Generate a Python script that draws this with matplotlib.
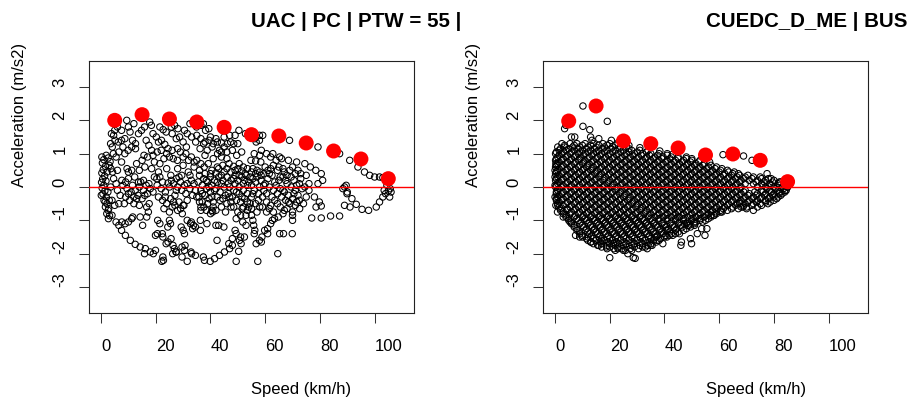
import numpy as np
import matplotlib
matplotlib.use("Agg")
from matplotlib import pyplot as plt

plt.rcParams['font.family'] = ['Liberation Sans', 'DejaVu Sans']

# ---- panel 1: UAC | PC | PTW = 55 ----
uac_title = "UAC | PC | PTW = 55 |"
uac_points = [
    # standstill column
    (0.3,0.9),(1.0,0.82),(0.5,0.72),(1.6,0.62),(0.8,0.52),(0.3,0.42),(1.3,0.33),(0.6,0.24),
    (0.2,0.14),(1.0,0.05),(0.4,-0.03),(1.4,-0.12),(0.7,-0.21),(1.9,-0.3),(1.1,-0.4),(2.2,-0.5),
    (1.6,-0.6),(2.6,-0.7),(2.1,-0.8),(3.1,-0.86),(2.7,-0.95),(1.9,0.95),(2.6,0.87),(3.3,0.76),
    (2.2,0.45),(1.8,0.18),(2.5,-0.15),(3.0,-0.4),
    # upper arcs
    (3.5,1.3),(4.1,1.2),(3.8,1.6),(4.6,1.55),(5.1,1.4),(6.3,1.35),(7.5,1.4),(8.7,1.45),(9.4,2.0),
    (10.0,1.8),(10.6,1.65),(8.7,1.0),(9.9,1.1),(11.2,1.2),(12.6,1.3),(12.6,1.15),(13.7,1.6),
    (14.8,1.7),(15.9,1.8),(17.8,1.95),(18.4,1.85),(15.7,0.95),(21.5,1.8),(22.7,1.72),(23.8,1.65),
    (22.1,1.4),(23.3,1.28),(24.5,1.15),(25.7,1.8),(26.9,1.85),(28.1,1.75),(28.7,1.5),(30.0,1.35),
    (31.2,1.2),(32.5,1.9),(33.7,1.95),(34.9,1.8),(33.1,1.5),(34.6,1.35),(36.2,1.15),(38.2,1.7),
    (39.4,1.75),(36.5,1.85),(37.4,1.9),(40.0,1.5),(42.0,1.45),(38.8,1.1),(40.6,1.2),(43.3,1.1),
    (45.0,1.2),(46.2,1.3),(47.4,1.35),(48.5,1.3),(50.0,1.3),(50.4,1.7),(52.8,1.6),(54.6,1.55),
    (56.2,1.45),(57.9,1.55),(59.1,1.55),(56.7,1.35),(57.9,1.4),(68.9,1.4),(79.3,1.2),(87.2,1.0),
    (90.9,0.8),(93.9,0.6),(96.3,0.45),(98.2,0.35),(100.0,0.3),(101.8,0.3),(103.0,0.28),(42.5,1.35),
    (44.0,1.32),(26.0,1.6),(27.5,1.45),(19.0,1.6),(20.2,1.5),(21.0,1.35),(16.5,1.4),(17.5,1.25),
    (18.5,1.1),(11.5,1.4),(6.0,1.8),(7.5,1.7),(5.0,1.7),(12.0,1.9),(30.5,1.7),(31.5,1.6),
    (15.0,0.8),(17.0,0.9),(19.0,0.95),(20.5,1.05),(22.0,1.1),(24.0,1.0),(26.0,1.1),(28.0,1.15),
    (30.0,0.9),(32.0,0.8),(34.0,0.75),(36.5,0.7),(13.0,0.7),(14.0,0.5),(19.5,0.75),(23.0,0.85),
    (6.0,0.5),(5.5,0.9),(6.5,1.05),(8.0,1.2),(4.5,1.0),(38.0,1.35),(39.5,1.4),(41.0,1.3),
    (44.0,1.05),(46.0,1.05),(48.0,1.1),(35.0,1.55),(36.5,1.45),(37.5,1.3),(45.0,1.5),(47.0,1.55),
    (49.0,1.55),
    # middle band 0.2 .. 1.0
    (25.0,0.9),(26.4,0.85),(27.9,0.8),(21.5,0.7),(24.0,0.55),(7.5,0.75),(9.5,0.55),(10.0,0.45),
    (11.2,0.5),(16.0,0.6),(18.5,0.55),(21.0,0.45),(3.0,0.65),(3.6,0.55),(4.2,0.45),(4.6,0.25),
    (7.6,0.2),(10.0,0.25),(12.3,0.3),(13.7,0.15),(15.5,0.2),(20.4,0.25),(21.5,0.3),(25.7,0.2),
    (27.5,0.25),(29.5,0.35),(31.9,0.45),(36.0,0.5),(37.7,0.6),(39.2,0.7),(41.0,0.85),(42.6,1.0),
    (46.8,0.7),(48.5,0.62),(50.0,0.55),(51.4,0.48),(52.7,0.4),(49.6,0.95),(51.4,1.05),(54.8,0.8),
    (56.5,0.78),(58.4,0.75),(58.6,1.1),(60.5,1.0),(62.8,1.0),(65.3,0.9),(66.0,0.85),(68.5,0.8),
    (71.5,0.75),(74.5,0.7),(76.5,0.6),(78.5,0.5),(80.5,0.4),(81.0,0.2),(79.3,0.1),(73.0,0.4),
    (75.0,0.35),(76.0,0.1),(56.0,1.0),(58.0,0.95),(62.0,0.9),(64.0,0.8),(33.0,0.9),(35.0,0.8),
    (31.0,1.0),(29.0,1.05),(44.0,0.9),(46.0,0.85),(38.0,0.95),(40.0,0.4),(43.0,0.55),(45.0,0.45),
    (30.0,0.65),(28.0,0.55),(34.0,0.6),(55.5,0.55),(57.0,0.5),(60.0,0.6),(62.0,0.55),(64.5,0.5),
    (67.0,0.45),(69.0,0.5),(71.0,0.4),
    (40.5,0.5),(42.5,0.6),(44.5,0.65),(46.0,0.55),(47.5,0.45),(49.0,0.5),(50.5,0.7),(52.0,0.6),
    (53.5,0.55),(55.0,0.45),(56.5,0.4),(58.0,0.45),(59.5,0.4),(61.0,0.5),(63.0,0.65),(65.0,0.6),
    (66.5,0.55),(68.0,0.35),(70.0,0.6),(72.0,0.5),
    # dense band around zero
    (36.0,0.35),(37.5,0.25),(39.0,0.15),(40.5,0.05),(42.0,-0.05),(43.5,-0.15),(36.5,-0.1),
    (38.0,-0.25),(39.5,-0.35),(41.0,-0.45),(42.5,-0.3),(44.0,0.1),(37.0,0.05),(38.5,-0.05),
    (40.0,-0.15),(41.5,0.2),(43.0,0.3),(44.5,-0.35),(35.0,-0.3),(36.0,-0.45),(38.0,0.4),
    (40.0,0.3),(42.0,0.42),(44.0,0.35),(45.0,0.0),(39.0,-0.5),(41.0,-0.6),
    (46.0,0.3),(47.5,0.2),(49.0,0.1),(50.5,0.0),(52.0,-0.1),(53.5,-0.2),(55.0,-0.3),(46.5,-0.2),
    (48.0,-0.3),(49.5,-0.4),(51.0,-0.45),(52.5,-0.35),(54.0,0.15),(55.5,0.25),(47.0,0.0),
    (48.5,-0.1),(50.0,0.2),(51.5,0.3),(53.0,0.35),(54.5,-0.5),(56.0,-0.1),(46.0,-0.5),(47.5,-0.6),
    (49.0,0.35),(50.5,-0.2),(52.0,0.1),(53.5,0.05),(55.0,0.05),
    (57.0,0.3),(58.5,0.2),(60.0,0.1),(61.5,0.0),(63.0,-0.1),(64.5,-0.2),(66.0,-0.3),(67.5,-0.4),
    (69.0,-0.5),(57.5,-0.2),(59.0,-0.3),(60.5,-0.45),(62.0,-0.55),(63.5,-0.4),(65.0,0.2),
    (66.5,0.3),(68.0,0.1),(69.5,0.0),(71.0,-0.1),(72.0,-0.25),(70.5,0.2),(58.0,0.0),(59.5,-0.1),
    (61.0,0.25),(62.5,0.35),(64.0,0.05),(65.5,-0.05),(67.0,-0.15),(68.5,-0.25),(70.0,-0.35),
    (71.5,-0.45),(72.5,0.1),(73.5,-0.05),(56.5,-0.5),(58.0,-0.6),
    (35.5,0.15),(37.0,-0.2),(38.5,0.2),(39.5,0.0),(40.5,-0.3),(41.5,-0.1),(42.5,0.15),(43.5,-0.4),
    (44.5,0.2),(45.5,-0.25),(46.5,0.1),(47.5,-0.45),(48.5,0.25),(49.5,-0.15),(50.5,0.35),
    (51.5,-0.3),(52.5,0.2),(53.5,-0.45),(54.5,0.3),(55.5,-0.2),(56.5,0.15),(57.5,-0.4),(58.5,0.35),
    (59.5,0.05),(60.5,-0.2),(61.5,0.4),(62.5,-0.3),(63.5,0.15),(64.5,-0.5),(65.5,0.3),(66.5,-0.1),
    (67.5,0.2),(68.5,-0.45),(69.5,0.3),(70.5,-0.2),(71.5,0.05),(72.5,-0.4),(73.0,0.25),(74.5,0.0),
    (75.0,-0.3),
    (36.5,-0.6),(38.5,-0.7),(40.0,-0.8),(42.0,-0.7),(44.0,-0.6),(45.5,-0.75),(47.0,-0.3),
    (48.5,-0.6),(50.0,-0.75),(52.0,-0.6),(53.0,-0.85),(55.0,-0.65),(57.0,-0.75),(59.0,-0.6),
    (60.5,-0.75),(61.5,-0.65),(63.0,-0.75),(65.5,-0.6),(66.5,-0.8),(68.0,-0.65),(70.0,-0.75),
    (20.5,0.05),(22.0,-0.05),(23.5,-0.15),(25.0,0.0),(26.5,0.1),(28.0,0.0),(29.5,-0.1),
    (31.0,-0.2),(32.5,-0.05),(34.0,0.1),(21.0,-0.3),(22.5,-0.4),(24.0,-0.5),(25.5,-0.35),
    (27.0,-0.25),(28.5,-0.45),(30.0,-0.55),(31.5,0.1),(33.0,0.2),(26.0,-0.6),(29.0,0.15),(24.5,0.12),
    (22.5,0.15),(23.5,-0.3),(25.5,0.35),(26.5,-0.45),(27.5,-0.1),(28.5,0.3),(30.5,0.05),
    (31.5,-0.4),(32.5,0.35),(33.5,-0.25),(34.5,-0.1),(27.0,-0.55),(28.0,-0.7),(25.0,-0.75),
    (23.0,-0.65),
    (8.0,0.05),(9.5,-0.05),(11.0,-0.15),(12.5,-0.1),(14.0,0.0),(15.5,-0.1),(17.0,-0.2),(9.0,-0.3),
    (10.5,-0.4),(12.0,-0.3),(13.5,-0.25),(15.0,-0.35),(16.5,0.05),(18.0,-0.05),(6.0,-0.1),
    (7.0,-0.25),(5.5,0.1),(4.0,-0.4),(5.0,-0.55),(6.5,-0.5),(3.5,0.0),
    (9.0,0.15),(10.0,-0.2),(11.5,0.05),(13.0,-0.35),(14.5,0.15),(16.0,-0.25),(17.5,0.1),
    (19.0,-0.15),(19.5,0.3),(12.0,-0.5),(14.0,-0.55),(8.5,-0.5),
    (88.4,-0.05),(89.6,0.05),(90.0,-0.15),(89.0,0.0),(104.5,0.05),(105.7,-0.05),(104.9,0.2),
    (106.0,-0.15),(105.5,-0.3),(103.5,-0.1),(89.9,-0.2),(91.7,-0.35),(76.0,-0.1),(78.0,-0.3),
    (74.0,-0.5),
    # lower arcs
    (0.1,-0.25),(1.5,-0.45),(2.8,-0.65),(4.0,-0.85),(5.5,-1.05),(6.5,-1.15),(7.5,-1.3),(8.9,-1.45),
    (10.7,-1.6),(12.5,-1.72),(14.3,-1.8),(16.2,-1.85),(18.0,-1.95),(19.1,-2.0),(15.9,-2.0),
    (7.6,-1.05),(8.8,-1.1),(10.0,-1.05),(11.2,-0.95),(14.3,-0.9),(16.7,-0.6),(17.3,-0.75),
    (16.7,-0.9),(15.2,-1.15),(17.6,-0.5),(11.6,-0.9),(21.5,-1.1),(25.0,-1.0),(25.4,-1.1),
    (19.9,-1.45),(22.6,-1.5),(24.5,-1.65),(26.3,-1.75),(26.8,-1.85),(27.4,-1.95),(22.6,-2.1),
    (22.2,-2.23),(22.8,-2.2),(19.9,-1.9),(20.6,-1.4),(22.4,-1.4),(23.8,-1.7),(24.4,-1.2),
    (25.6,-1.55),(20.7,-1.0),(26.2,-2.0),(29.1,-0.65),(29.7,-0.8),(31.5,-1.0),(32.7,-1.1),
    (33.5,-1.25),(27.5,-1.95),(30.5,-1.9),(32.9,-1.95),(34.5,-2.05),(29.6,-2.1),(31.5,-2.23),
    (33.1,-2.0),(29.6,-1.8),(30.7,-1.75),(29.3,-1.2),(30.0,-1.3),(30.5,-1.4),(30.3,-0.55),
    (33.0,-1.05),(33.8,-1.15),(34.5,-1.2),(36.3,-1.3),(36.3,-1.0),(38.7,-1.1),(40.8,-0.75),
    (42.0,-1.15),(42.4,-1.6),(37.4,-2.1),(37.8,-2.2),(39.9,-2.23),(41.5,-2.15),(43.3,-2.05),
    (45.1,-1.95),(47.0,-1.85),(48.0,-1.75),(49.0,-1.3),(46.7,-1.7),(48.0,-1.55),(49.4,-1.4),
    (50.6,-1.6),(51.0,-1.5),(51.2,-1.7),(49.4,-2.23),(50.3,-1.93),(52.4,-1.5),(51.8,-1.05),
    (53.0,-1.15),(49.4,-0.95),(51.0,-0.85),(51.6,-0.65),(35.8,-0.3),(37.0,-0.45),(37.6,-0.6),
    (36.5,-0.7),(40.5,-0.7),(43.0,-1.15),(44.9,-1.2),(57.3,-2.23),(56.7,-1.7),(56.0,-1.4),
    (56.2,-1.3),(55.8,-1.15),(55.5,-1.0),(55.0,-0.85),(57.9,-1.6),(58.8,-1.5),(59.8,-1.3),
    (60.9,-1.4),(60.9,-1.25),(58.6,-1.65),(62.0,-1.1),(62.6,-1.0),(63.4,-0.95),(64.8,-0.9),
    (64.6,-2.0),(65.3,-1.4),(66.7,-1.4),(69.9,-1.4),(70.0,-1.0),(70.0,-0.85),(72.6,-0.65),
    (71.0,-0.55),(67.0,-0.7),(77.0,-0.93),(80.5,-0.93),(83.9,-0.87),(87.2,-0.87),(78.6,-0.6),
    (79.8,-0.45),(80.5,-0.57),(89.0,-0.55),(91.0,-0.6),(93.3,-0.52),(95.4,-0.67),(97.8,-0.7),
    (100.6,-0.6),(101.8,-0.45),(103.0,-0.3),(104.0,-0.2),(105.0,-0.12),(53.5,-0.7),(54.0,-0.6),
]
uac_peak_speed = [5, 15, 25, 35, 45, 55, 65, 75, 85, 95, 105]
uac_peak_accel = [2.0, 2.17, 2.04, 1.95, 1.79, 1.57, 1.53, 1.32, 1.08, 0.84, 0.25]

# ---- panel 2: CUEDC_D_ME | BUS ----
bus_title = "CUEDC_D_ME | BUS"
bus_levels = [1.3, 1.2, 1.1, 1.0, 0.9, 0.8, 0.7, 0.6, 0.5, 0.4, 0.3, 0.2, 0.1, 0.0,
              -0.1, -0.2, -0.3, -0.4, -0.5, -0.6, -0.7, -0.8, -0.9, -1.0, -1.1, -1.2,
              -1.3, -1.4, -1.5, -1.6, -1.7, -1.8, -1.9]
bus_level_speeds = [
    [2.5, 5.5, 8, 11, 14, 17.5, 20],
    [1, 3.5, 6.5, 9, 12, 15, 18, 21, 24, 26],
    [1.5, 4, 7, 10, 13, 16, 19, 22, 25, 28, 31],
    [0.2, 2.5, 5.5, 8.5, 11, 14, 17, 20, 23, 26, 29, 32, 35, 38],
    [1, 4, 7, 9.5, 12.5, 15.5, 18.5, 21.5, 24.5, 27.5, 30.5, 33.5, 36.5, 39.5, 42.5, 45],
    [0.2, 2.5, 5.5, 8.5, 11, 14, 17, 20, 23, 26, 29, 32, 35, 38, 41, 44, 47, 50],
    [1, 4, 7, 10, 12.5, 15.5, 18.5, 21.5, 24.5, 27.5, 30.5, 33.5, 36.5, 39.5, 42.5, 45.5,
     48.5, 51.5, 54.5],
    [0.2, 2.5, 5.5, 8.5, 11.5, 14, 17, 20, 23, 26, 29, 32, 35, 38, 41, 44, 47, 50, 53, 56, 59],
    [1, 4, 7, 10, 13, 15.5, 18.5, 21.5, 24.5, 27.5, 30.5, 33.5, 36.5, 39.5, 42.5, 45.5,
     48.5, 51.5, 54.5, 57.5, 60.5, 63],
    [0.2, 2.5, 5.5, 8.5, 11.5, 14.5, 17, 20, 23, 26, 29, 32, 35, 38, 41, 44, 47, 50, 53, 56,
     59, 62, 65, 67],
    [1, 4, 7, 10, 13, 16, 18.5, 21.5, 24.5, 27.5, 30.5, 33.5, 36.5, 39.5, 42.5, 45.5, 48.5,
     51.5, 54.5, 57.5, 60.5, 63.5, 66.5, 69.5, 72.5, 75],
    [0.2, 2.5, 5.5, 8.5, 11.5, 14.5, 17.5, 20, 23, 26, 29, 32, 35, 38, 41, 44, 47, 50, 53, 56,
     59, 62, 65, 68, 71, 74, 77, 80],
    [1, 4, 7, 10, 13, 16, 19, 21.5, 24.5, 27.5, 30.5, 33.5, 36.5, 39.5, 42.5, 45.5, 48.5,
     51.5, 54.5, 57.5, 60.5, 63.5, 66.5, 69.5, 72.5, 75.5, 78.5, 81.5, 84],
    [0.2, 2.5, 5.5, 8.5, 11.5, 14.5, 17.5, 20.5, 23, 26, 29, 32, 35, 38, 41, 44, 47, 50, 53,
     56, 59, 62, 65, 68, 74, 77, 80, 83, 85],
    [1, 4, 7, 10, 13, 16, 19, 22, 24.5, 27.5, 30.5, 33.5, 36.5, 39.5, 42.5, 45.5, 48.5, 51.5,
     54.5, 57.5, 60.5, 63.5, 66.5, 69.5, 75.5, 78.5, 81.5, 84.5],
    [0.5, 2.5, 5.5, 8.5, 11.5, 14.5, 17.5, 20.5, 23.5, 26, 29, 32, 35, 38, 41, 44, 47, 50, 53,
     56, 59, 62, 65, 68, 71, 74, 77, 80, 83],
    [1, 4, 7, 10, 13, 16, 19, 22, 25, 27.5, 30.5, 33.5, 36.5, 39.5, 42.5, 45.5, 48.5, 51.5,
     54.5, 57.5, 60.5, 63.5, 66.5, 69.5, 72.5, 75.5, 78.5, 81.5],
    [0.5, 2.5, 5.5, 8.5, 11.5, 14.5, 17.5, 20.5, 23.5, 26.5, 29, 32, 35, 38, 41, 44, 47, 50,
     53, 56, 59, 62, 65, 68, 71, 74, 77, 80],
    [1, 4, 7, 10, 13, 16, 19, 22, 25, 28, 30.5, 33.5, 36.5, 39.5, 42.5, 45.5, 48.5, 51.5,
     54.5, 57.5, 60.5, 63.5, 66.5, 69.5, 72.5, 75],
    [1.5, 5.5, 8.5, 11.5, 14.5, 17.5, 20.5, 23.5, 26.5, 29.5, 32, 35, 38, 41, 44, 47, 50, 53,
     56, 59, 62, 65, 68, 70],
    [2, 4.5, 7, 10, 13, 16, 19, 22, 25, 28, 31, 33.5, 36.5, 39.5, 42.5, 45.5, 48.5, 51.5,
     54.5, 57.5, 60.5, 63],
    [3, 5.5, 8.5, 11.5, 14.5, 17.5, 20.5, 23.5, 26.5, 29.5, 32.5, 35, 38, 41, 44, 47, 50, 53,
     56, 59],
    [4, 7, 10, 13, 16, 19, 22, 25, 28, 31, 34, 36.5, 39.5, 42.5, 45.5, 48.5, 51.5, 54.5, 57],
    [5, 8.5, 11.5, 14.5, 17.5, 20.5, 23.5, 26.5, 29.5, 32.5, 35.5, 38, 41, 44, 47, 50, 53, 55],
    [6, 9, 12, 15, 18, 21, 24, 27, 30, 33, 36, 39, 42, 45, 48, 51],
    [7, 10.5, 13.5, 16.5, 19.5, 22.5, 25.5, 28.5, 31.5, 34.5, 37.5, 40.5, 43.5, 46.5, 49.5],
    [8, 11, 14, 17, 20, 23, 26, 29, 32, 35, 38, 41, 44, 47],
    [9, 12.5, 15.5, 18.5, 21.5, 24.5, 27.5, 30.5, 33.5, 36.5, 39.5, 42.5, 44],
    [10, 13, 16, 19, 22, 25, 28, 31, 34, 37, 40],
    [12, 15, 18, 21, 24, 27, 30, 33, 36, 38],
    [14, 17, 20, 23, 26, 29, 32, 35],
    [17, 20, 23, 26, 29, 32],
    [22, 25, 28],
]
# in-between traces of the bus cloud
bus_levels_b = [1.25, 1.15, 1.05, 0.95, 0.85, 0.75, 0.65, 0.55, 0.45, 0.35, 0.25, 0.15, 0.05,
                -0.05, -0.15, -0.25, -0.35, -0.45, -0.55, -0.65, -0.75, -0.85, -0.95, -1.05,
                -1.15, -1.25, -1.35, -1.45, -1.55, -1.65, -1.75, -1.85]
bus_level_speeds_b = [
    [3.5, 7, 10, 13, 16, 19, 22],
    [2, 5, 8.5, 11.5, 14.5, 17.5, 20.5, 23.5, 27],
    [0.5, 3, 6, 9, 12, 15, 18, 21, 24, 27, 30, 33.5],
    [1.5, 4.5, 7.5, 10.5, 13.5, 16.5, 19.5, 22.5, 25.5, 28.5, 31.5, 34.5, 37.5, 41],
    [0.5, 3, 6, 9, 12, 15, 18, 21, 24, 27, 30, 33, 36, 39, 42, 45, 48],
    [1.5, 4.5, 7.5, 10.5, 13.5, 16.5, 19.5, 22.5, 25.5, 28.5, 31.5, 34.5, 37.5, 40.5, 43.5,
     46.5, 49.5, 52.5],
    [0.5, 3, 6, 9, 12, 15, 18, 21, 24, 27, 30, 33, 36, 39, 42, 45, 48, 51, 54, 57],
    [1.5, 4.5, 7.5, 10.5, 13.5, 16.5, 19.5, 22.5, 25.5, 28.5, 31.5, 34.5, 37.5, 40.5, 43.5,
     46.5, 49.5, 52.5, 55.5, 58.5, 61],
    [0.5, 3, 6, 9, 12, 15, 18, 21, 24, 27, 30, 33, 36, 39, 42, 45, 48, 51, 54, 57, 60, 63.5,
     65.5],
    [1.5, 4.5, 7.5, 10.5, 13.5, 16.5, 19.5, 22.5, 25.5, 28.5, 31.5, 34.5, 37.5, 40.5, 43.5,
     46.5, 49.5, 52.5, 55.5, 58.5, 61.5, 64.5, 67.5, 70.5],
    [0.5, 3, 6, 9, 12, 15, 18, 21, 24, 27, 30, 33, 36, 39, 42, 45, 48, 51, 54, 57, 60, 63, 66,
     69, 72, 75.5, 78],
    [1.5, 4.5, 7.5, 10.5, 13.5, 16.5, 19.5, 22.5, 25.5, 28.5, 31.5, 34.5, 37.5, 40.5, 43.5,
     46.5, 49.5, 52.5, 55.5, 58.5, 61.5, 64.5, 67.5, 73.5, 76.5, 79.5, 82.5],
    [0.5, 3, 6, 9, 12, 15, 18, 21, 24, 27, 30, 33, 36, 39, 42, 45, 48, 51, 54, 57, 60, 63, 66,
     76, 79, 82, 84.5],
    [1.5, 4.5, 7.5, 10.5, 13.5, 16.5, 19.5, 22.5, 25.5, 28.5, 31.5, 34.5, 37.5, 40.5, 43.5,
     46.5, 49.5, 52.5, 55.5, 58.5, 61.5, 64.5, 67.5, 77.5, 80.5, 83.5],
    [0.5, 3, 6, 9, 12, 15, 18, 21, 24, 27, 30, 33, 36, 39, 42, 45, 48, 51, 54, 57, 60, 63, 66,
     69, 73, 76, 79, 82, 84],
    [1.5, 4.5, 7.5, 10.5, 13.5, 16.5, 19.5, 22.5, 25.5, 28.5, 31.5, 34.5, 37.5, 40.5, 43.5,
     46.5, 49.5, 52.5, 55.5, 58.5, 61.5, 64.5, 67.5, 70.5, 73.5, 76.5, 79.5, 82.5],
    [0.5, 3, 6, 9, 12, 15, 18, 21, 24, 27, 30, 33, 36, 39, 42, 45, 48, 51, 54, 57, 60, 63, 66,
     69, 72, 75, 78, 81],
    [1.5, 4.5, 7.5, 10.5, 13.5, 16.5, 19.5, 22.5, 25.5, 28.5, 31.5, 34.5, 37.5, 40.5, 43.5,
     46.5, 49.5, 52.5, 55.5, 58.5, 61.5, 64.5, 67.5, 70.5, 73.5, 77],
    [1, 3, 6, 9, 12, 15, 18, 21, 24, 27, 30, 33, 36, 39, 42, 45, 48, 51, 54, 57, 60, 63, 66,
     69, 72],
    [2, 4.5, 7.5, 10.5, 13.5, 16.5, 19.5, 22.5, 25.5, 28.5, 31.5, 34.5, 37.5, 40.5, 43.5,
     46.5, 49.5, 52.5, 55.5, 58.5, 61.5, 64.5, 67],
    [3, 6, 9, 12, 15, 18, 21, 24, 27, 30, 33, 36, 39, 42, 45, 48, 51, 54, 57, 60.5],
    [4, 7.5, 10.5, 13.5, 16.5, 19.5, 22.5, 25.5, 28.5, 31.5, 34.5, 37.5, 40.5, 43.5, 46.5,
     49.5, 52.5, 55.5, 58],
    [5, 8, 11, 14, 17, 20, 23, 26, 29, 32, 35, 38, 41, 44, 47, 50, 53, 56],
    [6, 9.5, 12.5, 15.5, 18.5, 21.5, 24.5, 27.5, 30.5, 33.5, 36.5, 39.5, 42.5, 45.5, 48.5,
     51.5, 54],
    [7, 10, 13, 16, 19, 22, 25, 28, 31, 34, 37, 40, 43, 46, 49, 51],
    [8, 11.5, 14.5, 17.5, 20.5, 23.5, 26.5, 29.5, 32.5, 35.5, 38.5, 41.5, 44.5, 48],
    [9, 12, 15, 18, 21, 24, 27, 30, 33, 36, 39, 42, 45],
    [10, 13.5, 16.5, 19.5, 22.5, 25.5, 28.5, 31.5, 34.5, 37.5, 40.5, 43],
    [11.5, 14, 17, 20, 23, 26, 29, 32, 35, 38.5],
    [13, 16.5, 19.5, 22.5, 25.5, 28.5, 31.5, 34.5, 37],
    [16, 19, 22, 25, 28, 31, 34],
    [19, 21.5, 24.5, 27.5, 30.5],
]
bus_extra = [
    (10.2,2.43),(19.1,1.97),(10.2,1.82),(12.7,1.72),(4.0,1.85),(3.5,1.75),(6.0,1.5),(7.2,1.5),
    (13.0,1.5),(13.5,1.4),(20.6,1.4),(16,1.45),(23,1.32),(27,1.25),(31,1.18),(34,1.1),
    (38.3,1.08),(41,1.0),(43,0.98),(48,0.9),(50,0.85),(53,0.8),(56.5,0.75),(61.4,0.97),
    (68.9,0.93),(72,0.8),(77.5,0.4),(79,0.25),(82,0.15),(0,0.05),(0,0.3),(0,0.5),(0.3,0.7),
    (0,-0.3),(0.3,-0.55),
    (0.9,-0.75),(3,-0.9),(5.5,-1.05),(7.5,-1.45),(9,-1.5),(12,-1.5),(13.2,-1.65),(15.6,-1.75),
    (16.8,-1.6),(18.8,-1.8),(20,-2.12),(21.3,-1.7),(23,-1.85),(25.7,-1.9),(26.6,-2.0),
    (28.6,-2.12),(29.3,-2.14),(33,-1.8),(33.7,-1.85),(35,-1.75),(35.5,-1.75),(36.5,-1.5),
    (37.3,-1.6),(39.4,-1.7),(40.9,-1.5),(41.8,-1.45),(40.5,-1.3),(44.9,-0.9),(45.5,-1.4),
    (46,-1.75),(46.2,-1.65),(47.3,-1.1),(48.5,-1.15),(49.5,-1.55),(49.9,-1.7),(50.9,-1.05),
    (52,-1.4),(53.6,-1.25),(54.8,-1.45),(55.5,-1.25),(57,-0.85),(58.2,-0.85),(59,-0.75),
    (61,-0.75),(67.5,-0.5),(68.7,-0.6),(70,-0.65),(72.5,-0.7),(74,-0.6),(75.5,-0.55),
    (77.8,-0.5),(78.6,-0.45),(80,-0.3),(82,-0.2),(84,-0.1),(85,0.0),
]
bus_peak_speed = [5, 15, 25, 35, 45, 55, 65, 75, 85]
bus_peak_accel = [1.98, 2.43, 1.38, 1.30, 1.17, 0.96, 0.99, 0.80, 0.16]

xticks = [0, 20, 40, 60, 80, 100]
yticks = [-3, -2, -1, 0, 1, 2, 3]

bus_points = ([(s, a) for a, row in zip(bus_levels, bus_level_speeds) for s in row]
              + [(s, a) for a, row in zip(bus_levels_b, bus_level_speeds_b) for s in row]
              + bus_extra)

fig = plt.figure(figsize=(9.12, 3.98), dpi=100)
W, H = 912.0, 398.0


def panel(left_px, pts, px, py, title):
    ax = fig.add_axes([left_px / W, (H - 313) / H, 325 / W, 252 / H])
    pts = np.array(pts)
    ax.scatter(pts[:, 0], pts[:, 1], s=4.6 ** 2, facecolors='none', edgecolors='black',
               linewidths=0.75, zorder=2)
    ax.axhline(0, color='#ff0000', lw=1.0, zorder=3)
    ax.scatter(px, py, s=10.8 ** 2, color='#ff0000', edgecolors='none', zorder=4)
    ax.set_xlim(-4.4, 114.4)
    ax.set_ylim(-3.78, 3.78)
    ax.set_xticks(xticks)
    ax.set_yticks(yticks)
    ax.set_xticklabels([str(v) for v in xticks])
    ax.set_yticklabels([str(v) for v in yticks])
    ax.tick_params(direction='out', length=7.2, width=0.75, labelsize=12, color='#333333')
    ax.tick_params(axis='x', pad=20.5)
    ax.tick_params(axis='y', pad=10.5)
    for lab in ax.get_xticklabels():
        lab.set_ha('left')
        lab.set_va('baseline')
    for lab in ax.get_yticklabels():
        lab.set_rotation(90)
        lab.set_rotation_mode('anchor')
        lab.set_ha('left')
        lab.set_va('baseline')
    for sp in ax.spines.values():
        sp.set_linewidth(0.8)
        sp.set_color('#222222')
    ax.set_xlabel('Speed (km/h)', fontsize=12, ha='left', va='baseline')
    ax.xaxis.set_label_coords(0.5, -81 / 252)
    ax.set_ylabel('Acceleration (m/s2)', fontsize=12, rotation=90, rotation_mode='anchor',
                  ha='left', va='baseline')
    ax.yaxis.set_label_coords(-65 / 325, 0.5)
    ax.text(0.5, 1 + 34.3 / 252, title, transform=ax.transAxes, fontsize=14.8,
            fontweight='bold', ha='left', va='baseline', clip_on=False)
    return ax


panel(89, uac_points, uac_peak_speed, uac_peak_accel, uac_title)
panel(543, bus_points, bus_peak_speed, bus_peak_accel, bus_title)

plt.savefig('out.png', dpi=100)
